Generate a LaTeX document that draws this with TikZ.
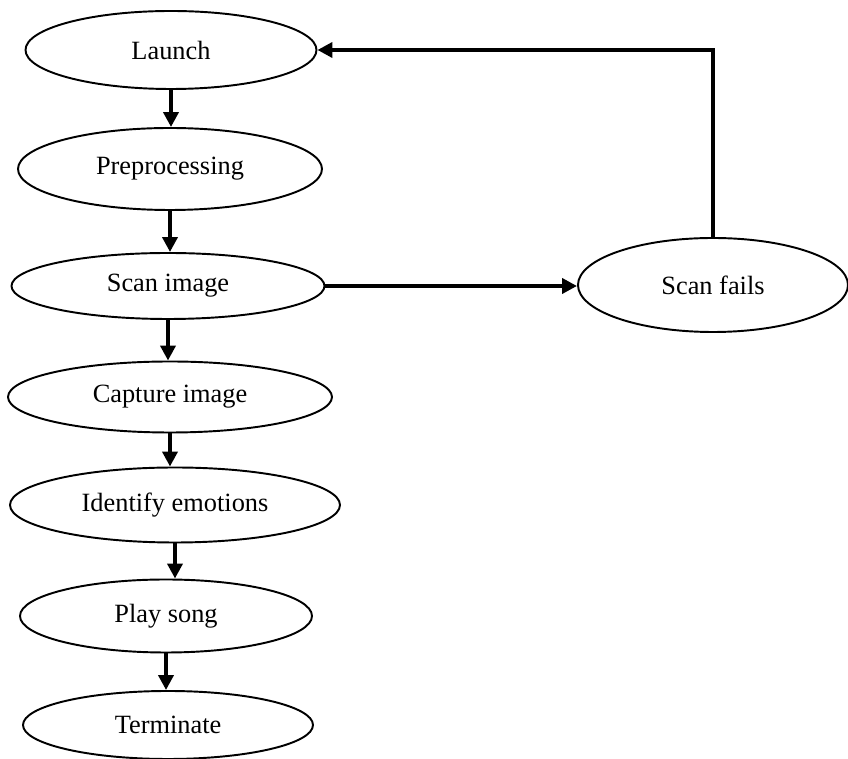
\documentclass[tikz,border=0pt]{standalone}
\usepackage{fontspec}
\setmainfont{Liberation Serif}
\usepackage{tikz}
\usetikzlibrary{arrows.meta,shapes.geometric}

\begin{document}
\begin{tikzpicture}[
      stage/.style={ellipse, draw, line width=1.1pt, inner sep=0pt, font=\fontsize{15}{18}\selectfont},
      flow/.style={line width=2.3pt, -{Triangle[length=0.3cm, width=0.3cm]}}
    ]
      \useasboundingbox (0,0) rectangle (16.96,15.18);

      \node[stage, minimum width=5.82cm, minimum height=1.56cm] (launch) at (3.42, 14.18) {Launch};
      \node[stage, minimum width=6.08cm, minimum height=1.64cm] (prep) at (3.40, 11.80) {Preprocessing};
      \node[stage, minimum width=6.26cm, minimum height=1.32cm] (scan) at (3.36, 9.46) {Scan image};
      \node[stage, minimum width=6.48cm, minimum height=1.42cm] (capture) at (3.40, 7.24) {Capture image};
      \node[stage, minimum width=6.60cm, minimum height=1.50cm] (identify) at (3.50, 5.08) {Identify emotions};
      \node[stage, minimum width=5.84cm, minimum height=1.46cm] (play) at (3.32, 2.86) {Play song};
      \node[stage, minimum width=5.80cm, minimum height=1.36cm] (terminate) at (3.36, 0.68) {Terminate};
      \node[stage, minimum width=5.40cm, minimum height=1.88cm] (fails) at (14.26, 9.48) {Scan fails};

      \draw[flow] (launch.south) -- (launch.south |- prep.north);
      \draw[flow] (prep.south) -- (prep.south |- scan.north);
      \draw[flow] (scan.south) -- (scan.south |- capture.north);
      \draw[flow] (capture.south) -- (capture.south |- identify.north);
      \draw[flow] (identify.south) -- (identify.south |- play.north);
      \draw[flow] (play.south) -- (play.south |- terminate.north);
      \draw[flow] (scan.east) -- (scan.east -| fails.west);
      \draw[flow] (fails.north) |- (launch.east);
    \end{tikzpicture}
\end{document}
